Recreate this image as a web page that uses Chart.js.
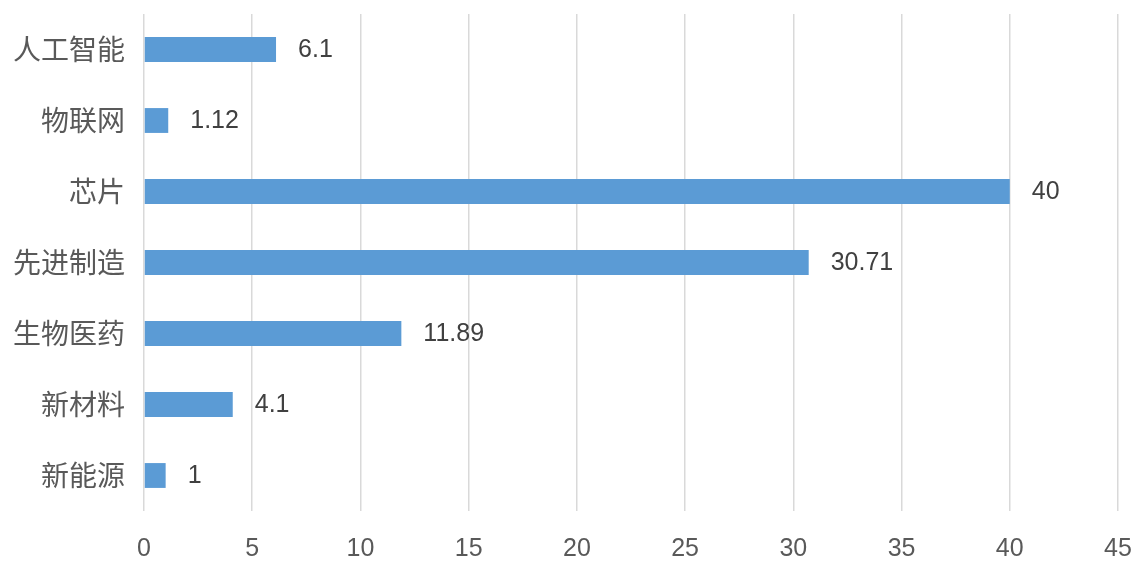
<!DOCTYPE html>
<html>
<head>
<meta charset="utf-8">
<script src="https://cdn.jsdelivr.net/npm/chart.js@4/dist/chart.umd.min.js"></script>
<style>
html,body{margin:0;padding:0;background:#fff;}
#wrap{width:1144px;height:570px;position:relative;}
</style>
</head>
<body>
<div id="wrap"><canvas id="c" width="1144" height="570"></canvas></div>
<script>
const categories = ["人工智能", "物联网", "芯片", "先进制造", "生物医药", "新材料", "新能源"];
const values = [6.1, 1.12, 40, 30.71, 11.89, 4.1, 1];
const xTicks = [0, 5, 10, 15, 20, 25, 30, 35, 40, 45];

const FONT = '"Noto Sans CJK SC", "Liberation Sans", sans-serif';
const NUMFONT = '"Liberation Sans", Arial, sans-serif';

const valueLabels = {
  id: 'valueLabels',
  afterDatasetsDraw(chart) {
    const ctx = chart.ctx;
    const meta = chart.getDatasetMeta(0);
    ctx.save();
    ctx.fillStyle = '#404040';
    ctx.font = '25px ' + NUMFONT;
    ctx.textAlign = 'left';
    ctx.textBaseline = 'middle';
    meta.data.forEach((bar, i) => {
      ctx.fillText(String(values[i]), bar.x + 22, bar.y + 1);
    });
    ctx.restore();
  }
};

new Chart(document.getElementById('c'), {
  type: 'bar',
  data: {
    labels: categories,
    datasets: [{
      data: values,
      backgroundColor: '#5b9bd5',
      borderWidth: 0,
      barPercentage: 0.7,
      categoryPercentage: 0.5
    }]
  },
  options: {
    indexAxis: 'y',
    responsive: false,
    animation: false,
    devicePixelRatio: 1,
    layout: { padding: { top: 14, right: 26, left: 0, bottom: 0 } },
    plugins: { legend: { display: false }, tooltip: { enabled: false } },
    scales: {
      x: {
        min: 0, max: 45,
        afterBuildTicks(axis) { axis.ticks = xTicks.map(v => ({ value: v })); },
        grid: { color: '#d9d9d9', lineWidth: 1.5, drawTicks: false },
        border: { display: false },
        ticks: { color: '#595959', font: { size: 25, family: NUMFONT }, padding: 23, maxRotation: 0 },
        afterFit(axis) { axis.height = 59; axis.paddingLeft = 0; axis.paddingRight = 0; }
      },
      y: {
        grid: { display: false, drawTicks: false },
        border: { display: false },
        ticks: { color: '#595959', font: { size: 28, family: FONT }, padding: 19 },
        afterFit(axis) { axis.width = 144; axis.paddingTop = 0; axis.paddingBottom = 0; }
      }
    }
  },
  plugins: [valueLabels]
});
</script>
</body>
</html>
